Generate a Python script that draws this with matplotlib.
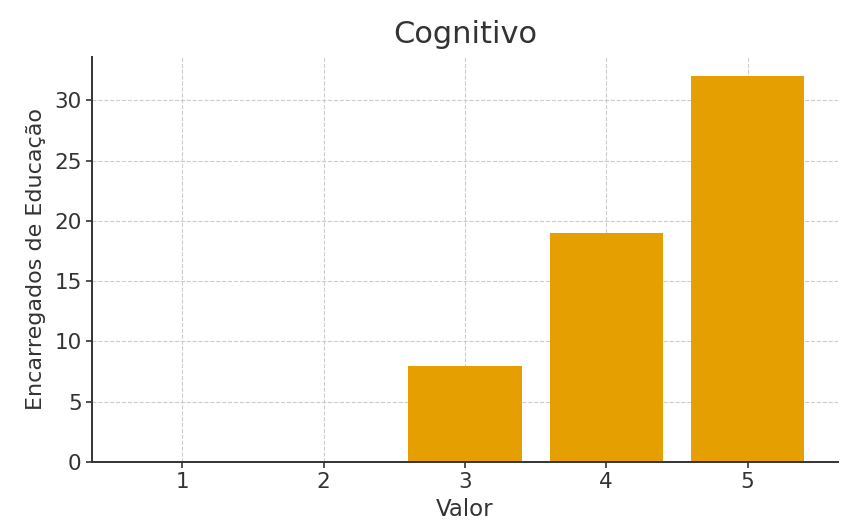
import matplotlib
matplotlib.use("Agg")
import matplotlib.pyplot as plt

categories = [1, 2, 3, 4, 5]
values = [0, 0, 8, 19, 32]
title = "Cognitivo"
xlabel = "Valor"
ylabel = "Encarregados de Educação"

fig = plt.figure(figsize=(8.43, 5.30), dpi=100)
ax = fig.add_axes([92/843, 1-462/530, (838-92)/843, (462-57)/530])
ax.bar(categories, values, width=0.8, color="#E69F00", zorder=2)
ax.set_xticks(categories)
ax.set_title(title, fontsize=22, color="#333333", pad=10)
ax.set_xlabel(xlabel, fontsize=16.5, color="#333333", labelpad=4)
ax.set_ylabel(ylabel, fontsize=16, color="#333333", labelpad=6)
ax.tick_params(labelsize=15.5, colors="#333333", width=1.2, length=4)
ax.grid(True, linestyle="--", color="#cccccc", linewidth=0.8, zorder=0)
ax.set_axisbelow(True)
for s in ["top", "right"]:
    ax.spines[s].set_visible(False)
for s in ["left", "bottom"]:
    ax.spines[s].set_color("#333333")
    ax.spines[s].set_linewidth(1.4)
fig.savefig("out.png", dpi=100)
